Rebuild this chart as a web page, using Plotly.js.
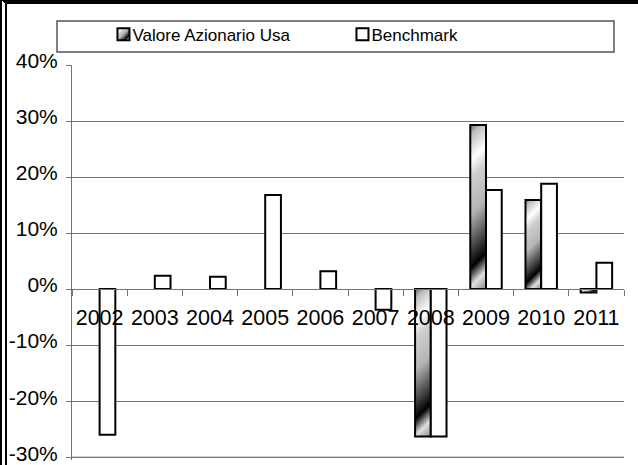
<!DOCTYPE html>
<html>
<head>
<meta charset="utf-8">
<script src="https://cdn.plot.ly/plotly-3.0.1.min.js"></script>
<style>
  html, body { margin: 0; padding: 0; background: #fff; }
  #wrap { position: relative; width: 638px; height: 465px; overflow: hidden; }
  #chart { position: absolute; left: 0; top: 0; width: 638px; height: 465px; }
  #frame { position: absolute; left: 0; top: 0; width: 638px; height: 465px; box-sizing: border-box;
           border-top: 4px solid #000; border-left: 7px double #000; pointer-events: none; }
</style>
</head>
<body>
<div id="wrap"><div id="chart"></div><div id="frame"></div></div>
<script>
// ---- data ----
const years = ['2002', '2003', '2004', '2005', '2006', '2007', '2008', '2009', '2010', '2011'];
const valoreAzionarioUsa = [null, null, null, null, null, null, -0.263, 0.293, 0.159, -0.006];
const benchmark = [-0.260, 0.024, 0.022, 0.168, 0.032, -0.037, -0.263, 0.177, 0.188, 0.047];
const yTickVals = [-0.3, -0.2, -0.1, 0, 0.1, 0.2, 0.3, 0.4];
const yTickText = ['-30%', '-20%', '-10%', '0%', '10%', '20%', '30%', '40%'];
const seriesNames = ['Valore Azionario Usa', 'Benchmark'];

const FONT = 'Liberation Sans, Arial, sans-serif';
const GRID = '#747474';

const traces = [
  {
    type: 'bar', name: seriesNames[0], x: years, y: valoreAzionarioUsa,
    marker: { color: '#b0b0b0', line: { color: '#000', width: 2 } }
  },
  {
    type: 'bar', name: seriesNames[1], x: years, y: benchmark,
    marker: { color: '#ffffff', line: { color: '#000', width: 2 } }
  }
];

const layout = {
  width: 638, height: 465,
  margin: { l: 72, r: 14, t: 65, b: 5 },
  paper_bgcolor: '#fff', plot_bgcolor: '#fff',
  font: { family: FONT, color: '#000', size: 21 },
  barmode: 'group', bargap: 0.43, bargroupgap: 0,
  showlegend: true,
  legend: {
    orientation: 'h', x: 0.057, xanchor: 'left', y: 1.077, yanchor: 'middle',
    font: { family: FONT, size: 17, color: '#000' },
    bgcolor: 'rgba(0,0,0,0)', borderwidth: 0,
    entrywidth: 194, entrywidthmode: 'pixels', traceorder: 'normal'
  },
  xaxis: {
    type: 'category', anchor: 'free', position: 0.305 / 0.705,
    tickson: 'boundaries', ticks: 'outside', ticklen: 6, tickcolor: GRID, tickwidth: 1,
    showline: true, linecolor: GRID, linewidth: 1, showgrid: false, zeroline: false,
    tickangle: 0, ticklabelstandoff: 9, ticklabeloverflow: 'allow',
    tickfont: { family: FONT, size: 21.5, color: '#000' }, fixedrange: true
  },
  yaxis: {
    range: [-0.305, 0.4], tickvals: yTickVals, ticktext: yTickText,
    showgrid: true, gridcolor: GRID, gridwidth: 1,
    showline: true, linecolor: GRID, linewidth: 1, zeroline: false,
    ticks: 'outside', ticklen: 5, tickcolor: GRID, ticklabelstandoff: 4, ticklabelshift: -4,
    ticklabeloverflow: 'allow',
    tickfont: { family: FONT, size: 21, color: '#000' }, fixedrange: true
  },
  shapes: [
    { type: 'rect', xref: 'paper', yref: 'paper', layer: 'below',
      x0: (57 - 72) / 552, x1: (614 - 72) / 552, y0: (460 - 52) / 395, y1: (460 - 21) / 395,
      line: { color: '#555', width: 1.5 }, fillcolor: 'rgba(0,0,0,0)' },
    // bottom gridline (-30%), which Plotly drops at the range edge
    { type: 'line', xref: 'paper', yref: 'y', layer: 'below',
      x0: 0, x1: 1, y0: yTickVals[0], y1: yTickVals[0],
      line: { color: GRID, width: 1 } }
  ]
};

const STOPS = [
  [0, '#6a6a6a'], [0.06, '#bdbdbd'], [0.2, '#ffffff'], [0.3, '#cfcfcf'], [0.5, '#b5b5b5'],
  [0.68, '#4a4a4a'], [0.8, '#000000'], [0.9, '#e0e0e0'], [1, '#8a8a8a']
];
const NS = 'http://www.w3.org/2000/svg';

function makeGrad(defs, id, x1, y1, x2, y2, units) {
  const g = document.createElementNS(NS, 'linearGradient');
  g.setAttribute('id', id);
  g.setAttribute('gradientUnits', units);
  g.setAttribute('x1', x1); g.setAttribute('y1', y1);
  g.setAttribute('x2', x2); g.setAttribute('y2', y2);
  STOPS.forEach(([o, c]) => {
    const s = document.createElementNS(NS, 'stop');
    s.setAttribute('offset', o); s.setAttribute('stop-color', c);
    g.appendChild(s);
  });
  defs.appendChild(g);
}

Plotly.newPlot('chart', traces, layout, { staticPlot: true, displayModeBar: false }).then(gd => {
  const svg = gd.querySelector('svg.main-svg');
  const defs = document.createElementNS(NS, 'defs');
  svg.insertBefore(defs, svg.firstChild);
  const barTraces = gd.querySelectorAll('.barlayer .trace');
  if (barTraces.length) {
    barTraces[0].querySelectorAll('path').forEach((p, i) => {
      let bb;
      try { bb = p.getBBox(); } catch (e) { return; }
      if (!bb || bb.width === 0) return;
      const d = (bb.width + bb.height) / 2;
      const id = 'vgrad' + i;
      makeGrad(defs, id, bb.x, bb.y, bb.x + d, bb.y + d, 'userSpaceOnUse');
      p.style.fill = 'url(#' + id + ')';
    });
  }
  makeGrad(defs, 'vgradLeg', 0, 0, 1, 1, 'objectBoundingBox');
  const legItems = gd.querySelectorAll('.legend .traces');
  legItems.forEach((item, k) => {
    const t = item.querySelector('text.legendtext');
    if (t) t.setAttribute('x', 29);
    if (k === 0) item.querySelectorAll('.legendpoints path').forEach(p => { p.style.fill = 'url(#vgradLeg)'; });
  });
});
</script>
</body>
</html>
